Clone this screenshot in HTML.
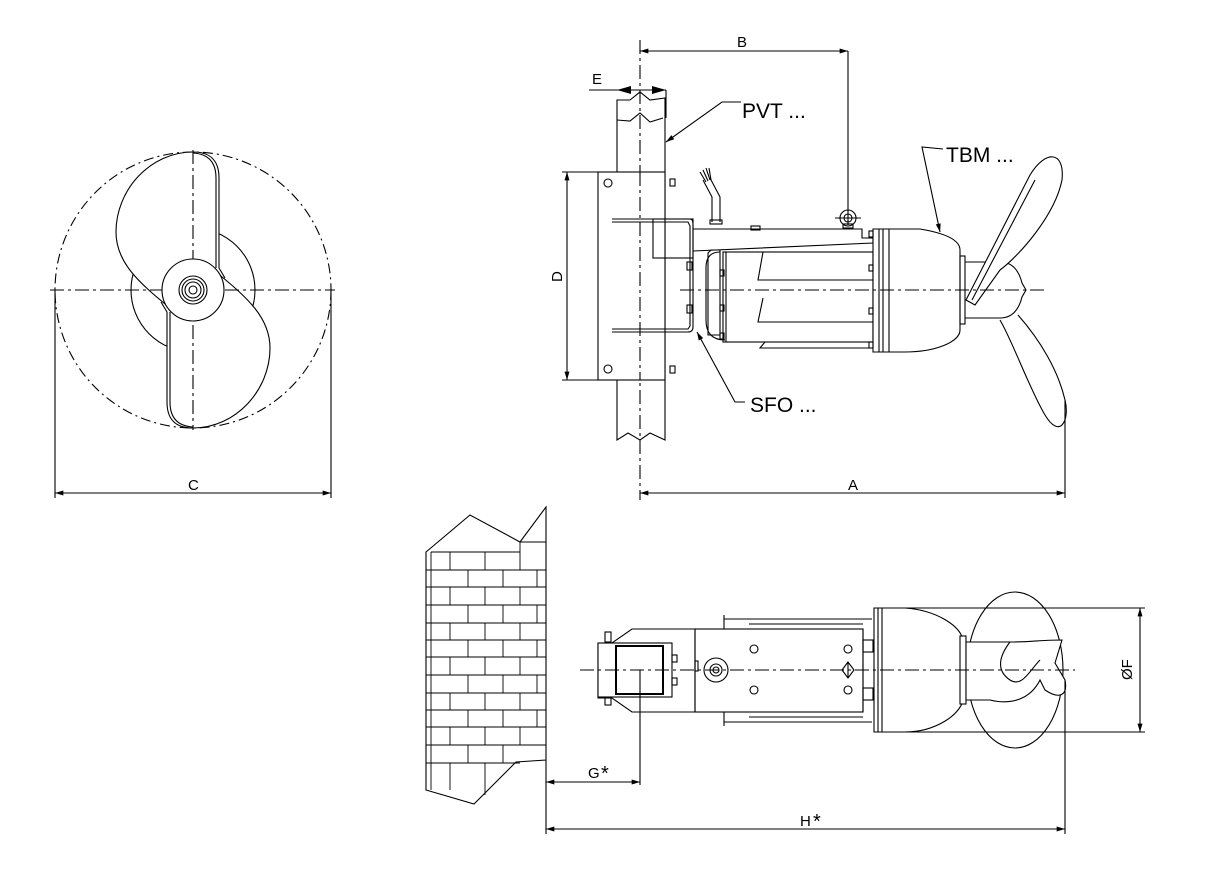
<!DOCTYPE html>
<html><head><meta charset="utf-8"><style>
html,body{margin:0;padding:0;background:#fff;}
svg{display:block;font-family:"Liberation Sans",sans-serif;}
</style></head><body>
<svg width="1225" height="870" viewBox="0 0 1225 870" xmlns="http://www.w3.org/2000/svg">
<defs>
<marker id="ar" viewBox="0 0 10 6" refX="10" refY="3" markerWidth="14" markerHeight="5" orient="auto-start-reverse" markerUnits="userSpaceOnUse"><path d="M0,0L10,3L0,6z" fill="#000"/></marker>
</defs>
<g fill="none" stroke="#000" stroke-width="1.1">
<!-- LEFT VIEW -->
<circle cx="193" cy="290" r="138" stroke-dasharray="10,4,2,4"/>
<circle cx="193" cy="290" r="62"/>
<g id="blade">
<path d="M193,152 C150,152 116,190 116,232 C116,262 138,282 170,308 L200,300 L219,270 L219,178 C219,162 212,152 193,152 Z" fill="#fff" stroke="none"/>
<path d="M193,152 C150,152 116,190 116,232 C116,262 138,282 170,308"/>
<path d="M193,152 C212,152 219,162 219,178 L219,268 L225,278"/>
<path d="M193,153 C210,154 216,164 216,178 L216,268"/>
</g>
<use href="#blade" transform="rotate(180 193 290)"/>
<line x1="50" y1="290" x2="335" y2="290" stroke-dasharray="14,4,3,4"/>
<line x1="193" y1="150" x2="193" y2="430" stroke-dasharray="14,4,3,4"/>
<circle cx="193" cy="290" r="31" fill="#fff"/>
<circle cx="193" cy="290" r="14"/><circle cx="193" cy="290" r="11"/><circle cx="193" cy="290" r="8"/><circle cx="193" cy="290" r="4"/>
<line x1="55" y1="290" x2="55" y2="498"/><line x1="331" y1="290" x2="331" y2="498"/>
<line x1="55" y1="493" x2="331" y2="493" marker-start="url(#ar)" marker-end="url(#ar)"/>

<!-- TOP RIGHT VIEW -->
<path d="M617,440 L617,100 L630,100 L640,92 L650,100 L665,98 L665,440 L650,433 L640,440 L628,433 Z" fill="#fff"/>
<path d="M617,120 L630,121 L640,113 L650,122 L663,118"/>
<line x1="640" y1="40" x2="640" y2="500" stroke-dasharray="14,4,3,4"/>
<line x1="589" y1="90" x2="617" y2="90"/>
<line x1="617" y1="90" x2="666" y2="90"/>
<path d="M617,90 l14,-4 v8z M666,90 l-14,-4 v8z" fill="#000" stroke="none"/>
<line x1="666" y1="90" x2="666" y2="118"/>
<line x1="640" y1="51" x2="848" y2="51" marker-start="url(#ar)" marker-end="url(#ar)"/>
<line x1="848" y1="51" x2="848" y2="225"/>
<!-- plate -->
<rect x="598" y="172" width="67" height="208" fill="#fff"/>
<line x1="562" y1="172" x2="598" y2="172"/><line x1="562" y1="380" x2="598" y2="380"/>
<line x1="567" y1="172" x2="567" y2="380" marker-start="url(#ar)" marker-end="url(#ar)"/>
<line x1="640" y1="172" x2="640" y2="380" stroke-dasharray="14,4,3,4"/>
<circle cx="608" cy="183" r="4"/><circle cx="608" cy="369" r="4"/>
<rect x="670" y="179" width="5" height="7"/><rect x="670" y="366" width="5" height="7"/>
<!-- U bracket -->
<path d="M612,219 L690,219 Q693,219 693,224 L693,327 Q693,332 688,332 L612,332"/>
<path d="M612,222 L688,222 L690,226 L690,326 L688,329 L612,329"/>
<rect x="653" y="219" width="40" height="39"/>
<rect x="687" y="262" width="5" height="8"/><rect x="687" y="305" width="5" height="8"/>
<!-- cable -->
<path d="M712,222 L712,197 L703,180 M720,222 L720,197 L710,178"/>
<rect x="710" y="220" width="12" height="4"/>
<path d="M700,172 l6,10 M703,170 l5,11 M706,168 l4,12 M709,168 l2,12"/>
<!-- arm -->
<path d="M693,229 L862,229 L862,238 L873,238 L873,243 L693,251"/>
<rect x="751" y="226" width="9" height="4"/>
<circle cx="848" cy="218" r="8"/><circle cx="848" cy="218" r="4"/>
<line x1="835" y1="218" x2="861" y2="218"/>
<rect x="843" y="224" width="10" height="4"/>
<!-- motor -->
<path d="M708,253 L711,250 L720,250 L720,335 L708,335 Z"/>
<path d="M720,252 Q706,252 706,268 L706,320 Q706,340 725,340"/>
<rect x="723" y="252" width="150" height="90"/>
<line x1="726" y1="252" x2="726" y2="342"/>
<path d="M763,252 L758,280 L873,280 M763,298 L758,322 L873,322 M765,342 L760,348 L873,348"/>
<rect x="720" y="270" width="4" height="6"/><rect x="720" y="305" width="4" height="6"/><rect x="720" y="333" width="4" height="6"/>
<path d="M873,229 L873,352 L905,352 C935,352 960,342 960,330 L960,250 C960,238 938,232 920,229 Z" fill="#fff"/>
<line x1="879" y1="229" x2="879" y2="352"/><line x1="883" y1="229" x2="883" y2="352"/><line x1="889" y1="229" x2="889" y2="352"/>
<rect x="869" y="231" width="4" height="6"/><rect x="869" y="265" width="4" height="6"/><rect x="869" y="308" width="4" height="6"/><rect x="869" y="342" width="4" height="6"/>
<rect x="960" y="256" width="5" height="68"/>
<path d="M965,262 L1000,262 C1015,262 1020,275 1022,283 L1026,290 L1022,297 C1020,305 1015,318 1000,318 L965,318"/>
<!-- propeller -->
<path d="M966,300 L1030,175 C1045,150 1065,150 1062,180 C1055,215 1020,255 1000,270 L975,305 Z" fill="#fff"/>
<path d="M972,300 L1035,180"/>
<path d="M1000,320 C1012,340 1030,390 1045,415 C1060,440 1070,420 1065,400 C1058,370 1040,340 1018,315" fill="#fff"/>
<line x1="680" y1="290" x2="1045" y2="290" stroke-dasharray="14,4,3,4"/>
<line x1="1065" y1="400" x2="1065" y2="498"/>
<line x1="640" y1="493" x2="1065" y2="493" marker-start="url(#ar)" marker-end="url(#ar)"/>
<!-- leaders -->
<polyline points="741,102 722,102 666,142" marker-end="url(#ar)"/>
<polyline points="943,149 922,147 940,232" marker-end="url(#ar)"/>
<polyline points="745,402 735,402 697,332" marker-end="url(#ar)"/>

<!-- WALL -->
<path d="M426,552 L470,515 L520,542 L546,507 L546,760 L516,762 L474,804 L426,790 Z" fill="#fff"/>
<g stroke-width="0.9">
<path d="M431,552 V790 M426,570H546M426,587H546M426,605H546M426,623H546M426,640H546M426,657H546M426,675H546M426,693H546M426,710H546M426,727H546M426,745H546M426,763H520 M431,552H520 M520,542H546"/>
<path d="M450,552V570 M485,552V570 M520,542V570 M468,570V587 M503,570V587 M537,570V587 M450,587V605 M485,587V605 M520,587V605 M468,605V623 M503,605V623 M537,605V623 M450,623V640 M485,623V640 M520,623V640 M468,640V657 M503,640V657 M537,640V657 M450,657V675 M485,657V675 M520,657V675 M468,675V693 M503,675V693 M537,675V693 M450,693V710 M485,693V710 M520,693V710 M468,710V727 M503,710V727 M537,710V727 M450,727V745 M485,727V745 M520,727V745 M468,745V763 M503,745V763 M450,763V790 M485,763V795"/>
</g>
<!-- BOTTOM VIEW -->
<path d="M598,643 L612,643 L632,629 L695,629 L695,712 L632,712 L612,698 L598,698 Z" fill="#fff"/>
<rect x="598" y="643" width="74" height="54" fill="#fff"/>
<rect x="616" y="646" width="47" height="48" stroke-width="2"/>
<rect x="605" y="632" width="6" height="10"/><rect x="605" y="698" width="6" height="7"/>
<rect x="672" y="655" width="5" height="7"/><rect x="672" y="678" width="5" height="7"/>
<rect x="695" y="629" width="168" height="83"/>
<rect x="695" y="661" width="3" height="10"/>
<ellipse cx="716" cy="670" rx="12" ry="12"/><circle cx="716" cy="670" r="6"/><circle cx="716" cy="670" r="3"/>
<circle cx="754" cy="649" r="4"/><circle cx="754" cy="690" r="4"/><circle cx="848" cy="649" r="4"/><circle cx="848" cy="690" r="4"/>
<path d="M848,662 L842,670 L848,678 L854,670 Z M848,662V678"/>
<path d="M724,619 L872,619 M724,722 L872,722 M724,615 V629 M724,712 V726 M749,624 L863,624 M749,717 L863,717 M863,629 L863,712"/>
<rect x="863" y="640" width="10" height="12"/><rect x="863" y="688" width="10" height="12"/>
<path d="M874,608 L874,732 L905,732 C935,732 960,715 963,700 L963,640 C960,625 935,610 905,608 Z" fill="#fff"/>
<line x1="878" y1="608" x2="878" y2="732"/><line x1="882" y1="608" x2="882" y2="732"/>
<ellipse cx="1015" cy="670" rx="48" ry="78" fill="none"/>
<rect x="960" y="636" width="6" height="68" fill="#fff"/>
<path d="M966,642 L1010,642 C1030,642 1040,640 1062,640 L1055,663 L1065,680 C1068,695 1060,700 1045,690 L1040,680 C1030,700 1010,705 990,700 L966,700 Z" fill="#fff"/>
<path d="M1010,642 C1000,655 995,670 1010,680 C1022,688 1030,670 1040,660"/>
<line x1="580" y1="670" x2="1075" y2="670" stroke-dasharray="14,4,3,4"/>
<line x1="874" y1="608" x2="1145" y2="608"/><line x1="874" y1="732" x2="1145" y2="732"/>
<line x1="1140" y1="608" x2="1140" y2="732" marker-start="url(#ar)" marker-end="url(#ar)"/>
<line x1="640" y1="670" x2="640" y2="785"/>
<line x1="546" y1="760" x2="546" y2="834"/>
<line x1="1065" y1="680" x2="1065" y2="834"/>
<line x1="546" y1="782" x2="640" y2="782" marker-start="url(#ar)" marker-end="url(#ar)"/>
<line x1="546" y1="829" x2="1065" y2="829" marker-start="url(#ar)" marker-end="url(#ar)"/>
</g>
<g font-size="15" fill="#000">
<text x="188" y="490">C</text>
<text x="848" y="490">A</text>
<text x="737" y="47">B</text>
<text x="592" y="84">E</text>
<text x="0" y="0" transform="translate(562,282) rotate(-90)">D</text>
<text x="0" y="0" transform="translate(1132,680) rotate(-90)">ØF</text>
<text x="588" y="778">G</text><text x="601" y="780" font-size="20">*</text>
<text x="800" y="826">H</text><text x="813" y="828" font-size="20">*</text>
<text x="742" y="118" font-size="21">PVT ...</text>
<text x="946" y="162" font-size="21">TBM ...</text>
<text x="750" y="412" font-size="21">SFO ...</text>
</g>
</svg>
</body></html>
